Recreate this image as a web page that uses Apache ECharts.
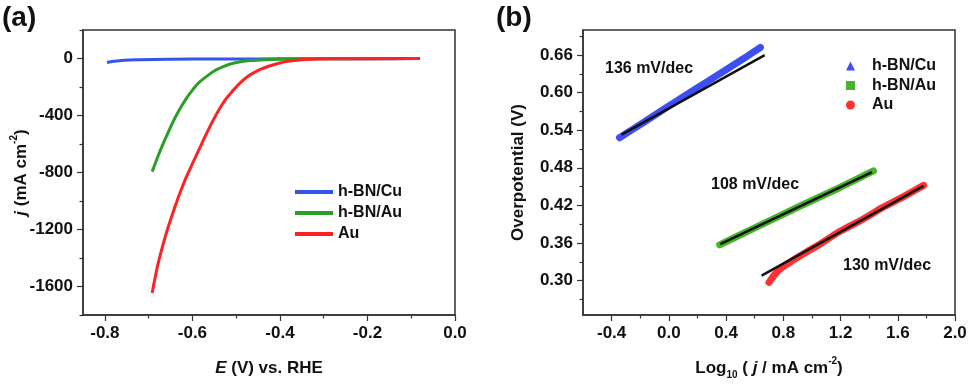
<!DOCTYPE html>
<html>
<head>
<meta charset="utf-8">
<script src="https://cdn.jsdelivr.net/npm/echarts@6/dist/echarts.min.js"></script>
<style>
  html, body { margin: 0; padding: 0; background: #fff; }
  #chart { width: 970px; height: 385px; }
</style>
</head>
<body>
<div id="chart"></div>
<script>
// ---- (a) polarization curves ----
var cuE = [-0.795, -0.779, -0.756, -0.722, -0.65, -0.55, -0.45, -0.35, -0.25, -0.15, -0.08];
var cuJ = [-28, -19, -12, -8, -5, -4, -3, -2, -1, -1, 0];

var bnAuE = [-0.692, -0.684, -0.676, -0.653, -0.630, -0.600, -0.569, -0.531, -0.493, -0.455, -0.401, -0.35, -0.25, -0.08];
var bnAuJ = [-794, -730, -665, -502, -362, -222, -129, -59, -24, -12, -5, -2, -1, 0];

var auE = [-0.692, -0.684, -0.676, -0.661, -0.642, -0.623, -0.604, -0.585, -0.562, -0.531, -0.51, -0.493, -0.475, -0.455, -0.435, -0.417, -0.398, -0.378, -0.35, -0.325, -0.28, -0.2, -0.08];
var auJ = [-1646, -1520, -1410, -1240, -1060, -900, -765, -640, -490, -318, -235, -178, -130, -92, -65, -46, -30, -18, -9, -5, -2, -1, 0];

// ---- (b) Tafel plots ----
var cuLog = [-0.345, -0.18, 0.05, 0.285, 0.52, 0.64];
var cuEta = [0.528, 0.552, 0.586, 0.620, 0.654, 0.672];
var cuFitLog = [-0.33, 0.67];
var cuFitEta = [0.533, 0.660];

var bnAuLog = [0.355, 0.6, 0.9, 1.2, 1.43];
var bnAuEta = [0.357, 0.384, 0.417, 0.449, 0.475];
var bnAuFitLog = [0.36, 1.42];
var bnAuFitEta = [0.358, 0.473];

var auLog = [0.70, 0.741, 0.788, 0.858, 0.952, 1.069, 1.185, 1.35, 1.489, 1.64, 1.781];
var auEta = [0.297, 0.310, 0.3205, 0.331, 0.344, 0.360, 0.377, 0.397, 0.416, 0.434, 0.452];
var auFitLog = [0.648, 1.781];
var auFitEta = [0.308, 0.451];

// ticks
var aXLabels = [-0.8, -0.6, -0.4, -0.2, 0.0];
var aXMinor = [-0.7, -0.5, -0.3, -0.1];
var aYLabels = [-1600, -1200, -800, -400, 0];
var aYMinor = [-1800, -1400, -1000, -600, -200, 200];
var bXLabels = [-0.4, 0.0, 0.4, 0.8, 1.2, 1.6, 2.0];
var bXMinor = [-0.2, 0.2, 0.6, 1.0, 1.4, 1.8];
var bYLabels = [0.30, 0.36, 0.42, 0.48, 0.54, 0.60, 0.66];
var bYMinor = [0.27, 0.33, 0.39, 0.45, 0.51, 0.57, 0.63, 0.69];

var FONT = 'Liberation Sans, Arial, sans-serif';
var AXIS_COLOR = '#333';

function zip(a, b) {
  return a.map(function (v, i) { return [v, b[i]]; });
}

var nameStyle = {
  fontFamily: FONT, fontSize: 17, fontWeight: 'bold', color: '#111', lineHeight: 24,
  rich: {
    i: { fontFamily: FONT, fontSize: 17, fontWeight: 'bold', fontStyle: 'italic', color: '#111' },
    sup: { fontFamily: FONT, fontSize: 10, fontWeight: 'bold', color: '#111', verticalAlign: 'top', lineHeight: 12 },
    sub: { fontFamily: FONT, fontSize: 10, fontWeight: 'bold', color: '#111', verticalAlign: 'bottom', lineHeight: 10 }
  }
};

function mainAxis(grid, pos, min, max, ticks, digits, name, gap) {
  return {
    gridIndex: grid, type: 'value', min: min, max: max, position: pos,
    axisLine: { onZero: false, lineStyle: { color: AXIS_COLOR, width: 1.5 } },
    axisTick: { customValues: ticks, length: 6, lineStyle: { color: AXIS_COLOR, width: 1.2 } },
    axisLabel: {
      customValues: ticks, margin: 10, fontFamily: FONT, fontSize: 17, fontWeight: 'bold', color: '#111',
      formatter: function (v) { return digits == null ? String(Math.round(v)) : v.toFixed(digits); }
    },
    splitLine: { show: false },
    name: name, nameLocation: 'middle', nameGap: gap, nameMoveOverlap: false,
    nameRotate: pos == 'left' ? 90 : 0,
    nameTextStyle: nameStyle
  };
}

function minorAxis(grid, pos, min, max, ticks) {
  return {
    gridIndex: grid, type: 'value', min: min, max: max, position: pos,
    axisLine: { show: false, onZero: false },
    axisTick: { customValues: ticks, length: 3.5, lineStyle: { color: AXIS_COLOR, width: 1.2 } },
    axisLabel: { show: false },
    splitLine: { show: false }
  };
}

function curve(name, x, y, color) {
  return {
    name: name, type: 'line', xAxisIndex: 0, yAxisIndex: 0, data: zip(x, y),
    symbol: 'none', smooth: true, lineStyle: { color: color, width: 3 }, itemStyle: { color: color }
  };
}

function tafel(name, x, y, color) {
  return {
    name: name, type: 'line', xAxisIndex: 2, yAxisIndex: 2, data: zip(x, y),
    symbol: 'none', smooth: 0.2, lineStyle: { color: color, width: 7, cap: 'round' }, itemStyle: { color: color }
  };
}

function fit(x, y) {
  return {
    type: 'line', xAxisIndex: 2, yAxisIndex: 2, data: zip(x, y), z: 5,
    symbol: 'none', lineStyle: { color: '#111', width: 2.5 }
  };
}

var chart = echarts.init(document.getElementById('chart'));
chart.setOption({
  backgroundColor: '#fff',
  animation: false,
  grid: [
    { left: 83, right: 515, top: 30, bottom: 70, show: true, borderColor: AXIS_COLOR, borderWidth: 1.5 },
    { left: 583, right: 15, top: 30, bottom: 69, show: true, borderColor: AXIS_COLOR, borderWidth: 1.5 }
  ],
  xAxis: [
    mainAxis(0, 'bottom', -0.85, 0, aXLabels, 1, '{i|E} (V) vs. RHE', 41),
    minorAxis(0, 'bottom', -0.85, 0, aXMinor),
    mainAxis(1, 'bottom', -0.6, 2.0, bXLabels, 1, 'Log{sub|10} ( {i|j} / mA cm{sup|-2})', 41),
    minorAxis(1, 'bottom', -0.6, 2.0, bXMinor)
  ],
  yAxis: [
    mainAxis(0, 'left', -1800, 200, aYLabels, null, '{i|j} (mA cm{sup|-2})', 50),
    minorAxis(0, 'left', -1800, 200, aYMinor),
    mainAxis(1, 'left', 0.245, 0.70, bYLabels, 2, 'Overpotential (V)', 53),
    minorAxis(1, 'left', 0.245, 0.70, bYMinor)
  ],
  legend: [
    {
      orient: 'vertical', left: 290, top: 178, itemWidth: 38, itemHeight: 4, itemGap: 3,
      icon: 'rect', selectedMode: false,
      textStyle: { fontFamily: FONT, fontSize: 16, fontWeight: 'bold', color: '#111', lineHeight: 18 },
      data: ['h-BN/Cu', 'h-BN/Au', 'Au']
    },
    {
      orient: 'vertical', left: 841, top: 52, itemWidth: 9, itemHeight: 9, itemGap: 1.5,
      selectedMode: false,
      textStyle: { fontFamily: FONT, fontSize: 16, fontWeight: 'bold', color: '#111', lineHeight: 18, padding: [0, 0, 0, 12] },
      formatter: function (n) { return n.replace('b:', ''); },
      data: [
        { name: 'b:h-BN/Cu', icon: 'triangle' },
        { name: 'b:h-BN/Au', icon: 'rect' },
        { name: 'b:Au', icon: 'circle' }
      ]
    }
  ],
  graphic: [
    { type: 'text', left: 2, top: 4, style: { text: '(a)', font: 'bold 28px ' + FONT, fill: '#111' } },
    { type: 'text', left: 496, top: 4, style: { text: '(b)', font: 'bold 28px ' + FONT, fill: '#111' } },
    { type: 'text', left: 605, top: 61, style: { text: '136 mV/dec', font: 'bold 16px ' + FONT, fill: '#111' } },
    { type: 'text', left: 711, top: 177, style: { text: '108 mV/dec', font: 'bold 16px ' + FONT, fill: '#111' } },
    { type: 'text', left: 843, top: 258, style: { text: '130 mV/dec', font: 'bold 16px ' + FONT, fill: '#111' } }
  ],
  series: [
    curve('h-BN/Cu', cuE, cuJ, '#3355ee'),
    curve('h-BN/Au', bnAuE, bnAuJ, '#27a027'),
    curve('Au', auE, auJ, '#ff2222'),
    tafel('b:h-BN/Cu', cuLog, cuEta, '#3d4ff2'),
    tafel('b:h-BN/Au', bnAuLog, bnAuEta, '#45b52a'),
    tafel('b:Au', auLog, auEta, '#ff3030'),
    fit(cuFitLog, cuFitEta),
    fit(bnAuFitLog, bnAuFitEta),
    fit(auFitLog, auFitEta)
  ]
});
</script>
</body>
</html>
